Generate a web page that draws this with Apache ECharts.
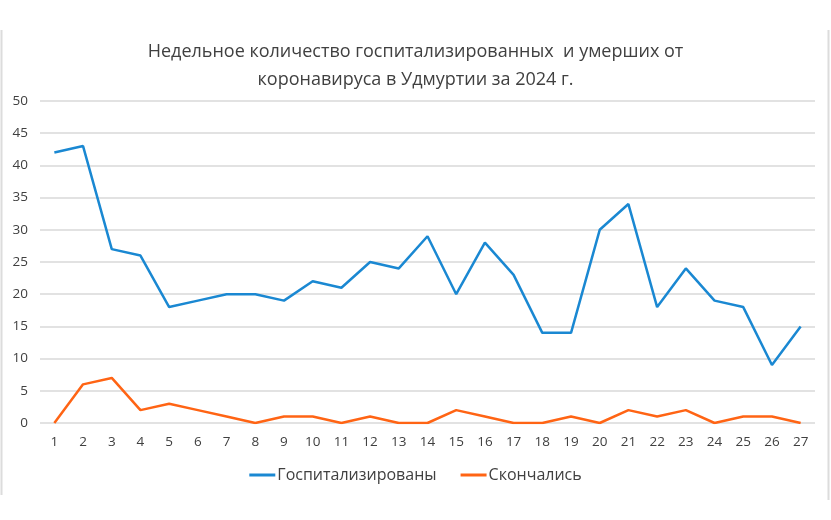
<!DOCTYPE html>
<html><head><meta charset="utf-8">
<script src="https://cdn.jsdelivr.net/npm/echarts@6/dist/echarts.min.js"></script>
<style>html,body{margin:0;padding:0;background:#fff}#c{width:831px;height:520px}</style>
</head><body><div id="c"></div>
<script>
const categories = ['1','2','3','4','5','6','7','8','9','10','11','12','13','14','15','16','17','18','19','20','21','22','23','24','25','26','27'];
const hospitalized = [42,43,27,26,18,19,20,20,19,22,21,25,24,29,20,28,23,14,14,30,34,18,24,19,18,9,15];
const deaths = [0,6,7,2,3,2,1,0,1,1,0,1,0,0,2,1,0,0,1,0,2,1,2,0,1,1,0];
const seriesNames = ['Госпитализированы','Скончались'];
const titleText = 'Недельное количество госпитализированных  и умерших от\nкоронавируса в Удмуртии за 2024 г.';
const yTicks = {min:0, max:50, interval:5};

const chart = echarts.init(document.getElementById('c'));
const font = 'Open Sans, Lato, sans-serif';
chart.setOption({
  animation:false,
  backgroundColor:'#fff',
  title:{text:titleText, left:'center', top:33, textStyle:{fontFamily:font, fontSize:18, fontWeight:'normal', color:'#404040', lineHeight:28}},
  legend:{bottom:32, left:'center', itemWidth:26, itemHeight:3, itemGap:24, icon:'rect',
    textStyle:{fontFamily:font, fontSize:16, color:'#404040', padding:[0,0,0,-3]}, data:seriesNames},
  grid:{left:40, right:16, top:101, bottom:97},
  xAxis:{type:'category', data:categories, boundaryGap:true,
    axisLine:{show:false}, axisTick:{show:false},
    axisLabel:{fontFamily:font, fontSize:13.5, color:'#404040', margin:12}},
  yAxis:{type:'value', min:yTicks.min, max:yTicks.max, interval:yTicks.interval,
    axisLine:{show:false}, axisTick:{show:false},
    splitLine:{lineStyle:{color:'#d9d9d9', width:1.5}},
    axisLabel:{fontFamily:font, fontSize:13.5, color:'#404040', margin:12}},
  series:[
    {name:seriesNames[0], type:'line', data:hospitalized, symbol:'none', lineStyle:{color:'#1a88d2', width:2.5}, itemStyle:{color:'#1a88d2'}},
    {name:seriesNames[1], type:'line', data:deaths, symbol:'none', lineStyle:{color:'#ff6414', width:2.5}, itemStyle:{color:'#ff6414'}}
  ],
  graphic:[
    {type:'line', shape:{x1:1.5,y1:30,x2:1.5,y2:495}, style:{stroke:'#dcdcdc', lineWidth:2}},
    {type:'line', shape:{x1:828.5,y1:30,x2:828.5,y2:500}, style:{stroke:'#dcdcdc', lineWidth:2}}
  ]
});
</script></body></html>
